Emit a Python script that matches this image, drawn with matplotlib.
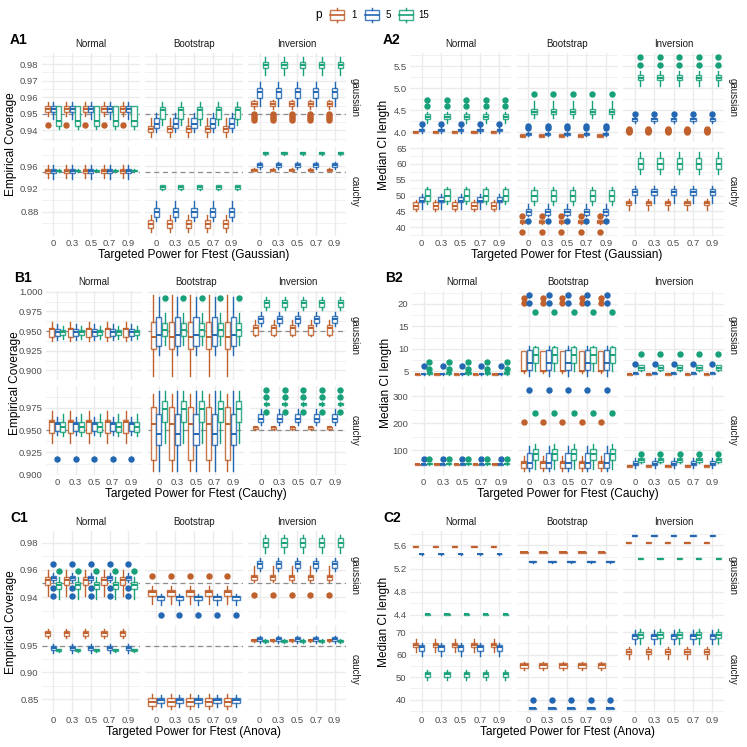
import matplotlib
matplotlib.use("Agg")
import matplotlib.pyplot as plt
from matplotlib.patches import Rectangle
import numpy as np

plt.rcParams['font.family'] = ['Liberation Sans', 'DejaVu Sans']

FIG_PX = 747
DPI = 100

POWER_LEVELS = ["0", "0.3", "0.5", "0.7", "0.9"]
P_VALUES = ["1", "5", "15"]
METHODS = ["Normal", "Bootstrap", "Inversion"]
DISTRIBUTIONS = ["gaussian", "cauchy"]
P_COLORS = {"1": "#C0602C", "5": "#2367B3", "15": "#17A079"}

# box statistics per p (1, 5, 15): (lower whisker, Q1, median, Q3, upper whisker, [outliers]); None = absent
A1_GAUSSIAN = {
    "Normal":    [(0.949, 0.951, 0.953, 0.955, 0.957, [0.9436]),
                  (0.947, 0.951, 0.953, 0.9545, 0.957, []),
                  (0.9406, 0.943, 0.946, 0.9545, 0.955, [])],
    "Bootstrap": [(0.9358, 0.9388, 0.9412, 0.943, 0.9473, []),
                  (0.9388, 0.9418, 0.9442, 0.9473, 0.9503, []),
                  (0.9436, 0.9467, 0.9525, 0.954, 0.957, [])],
    "Inversion": [(0.9530, 0.9545, 0.956, 0.9576, 0.9585, [0.9497, 0.9485, 0.9473, 0.9465]),
                  (0.9545, 0.9594, 0.9633, 0.9655, 0.969, []),
                  (0.9733, 0.9776, 0.9797, 0.9812, 0.9842, [])],
}
A1_CAUCHY = {
    "Normal":    [(0.9387, 0.948, 0.951, 0.955, 0.9618, []),
                  (0.938, 0.947, 0.952, 0.955, 0.962, []),
                  (0.949, 0.951, 0.952, 0.953, 0.955, [])],
    "Bootstrap": [(0.844, 0.8516, 0.8587, 0.8658, 0.873, []),
                  (0.864, 0.871, 0.880, 0.887, 0.898, []),
                  (0.918, 0.920, 0.923, 0.926, 0.927, [])],
    "Inversion": [(0.951, 0.952, 0.9535, 0.955, 0.956, []),
                  (0.955, 0.9575, 0.961, 0.9645, 0.967, []),
                  (0.9798, 0.9815, 0.983, 0.9845, 0.9855, [])],
}
A2_GAUSSIAN = {
    "Normal":    [(3.98, 3.99, 4.00, 4.02, 4.03, []),
                  (3.98, 4.02, 4.04, 4.07, 4.12, [4.19]),
                  (4.20, 4.29, 4.35, 4.41, 4.45, [4.59, 4.74])],
    "Bootstrap": [(3.88, 3.90, 3.92, 3.95, 3.96, []),
                  (3.92, 3.93, 3.95, 3.98, 4.00, [4.09, 4.13]),
                  (4.32, 4.41, 4.47, 4.53, 4.71, [4.86])],
    "Inversion": [(4.01, 4.02, 4.04, 4.06, 4.07, [4.00, 4.02, 4.06, 4.08]),
                  (4.22, 4.25, 4.29, 4.33, 4.36, [4.42]),
                  (5.05, 5.19, 5.24, 5.30, 5.40, [5.52, 5.71])],
}
A2_CAUCHY = {
    "Normal":    [(45.0, 45.8, 46.7, 47.9, 48.7, []),
                  (45.9, 47.9, 48.4, 49.5, 50.6, []),
                  (47.2, 48.4, 50.0, 52.2, 52.8, [])],
    "Bootstrap": [(41.0, 41.2, 41.7, 42.2, 42.4, [43.6, 38.5]),
                  (43.6, 44.0, 44.8, 45.6, 47.2, [42.1]),
                  (46.9, 48.2, 49.8, 51.9, 52.6, [])],
    "Inversion": [(45.5, 46.9, 47.5, 48.4, 49.0, []),
                  (47.6, 50.3, 51.2, 52.1, 53.1, []),
                  (56.8, 58.4, 60.1, 62.0, 63.9, [])],
}
B1_GAUSSIAN = {
    "Normal":    [(0.9379, 0.9423, 0.953, 0.9539, 0.9616, []),
                  (0.9388, 0.9436, 0.9487, 0.953, 0.9594, []),
                  (0.9397, 0.9456, 0.949, 0.9517, 0.9564, [])],
    "Bootstrap": [(0.8929, 0.9272, 0.9423, 0.9616, 0.9958, []),
                  (0.9195, 0.9315, 0.9452, 0.968, 0.9938, []),
                  (0.9324, 0.9443, 0.9508, 0.9607, 0.9736, [0.9916])],
    "Inversion": [(0.9436, 0.9456, 0.9539, 0.9581, 0.9636, []),
                  (0.9564, 0.9607, 0.9654, 0.9693, 0.9745, []),
                  (0.9774, 0.9809, 0.9851, 0.9894, 0.9938, [])],
}
B1_CAUCHY = {
    "Normal":    [(0.936, 0.9473, 0.9586, 0.9613, 0.971, []),
                  (0.9444, 0.9492, 0.9568, 0.9593, 0.9642, [0.918]),
                  (0.9436, 0.9484, 0.954, 0.9586, 0.968, [])],
    "Bootstrap": [(0.9042, 0.9162, 0.9568, 0.9762, 0.9905, []),
                  (0.9042, 0.9334, 0.9462, 0.968, 0.9935, []),
                  (0.936, 0.9586, 0.9736, 0.9822, 0.9935, [])],
    "Inversion": [(0.9505, 0.951, 0.953, 0.954, 0.955, []),
                  (0.956, 0.9586, 0.9624, 0.968, 0.9736, []),
                  (0.9775, 0.978, 0.9795, 0.981, 0.9815, [0.995, 0.9867, 0.9706])],
}
B2_GAUSSIAN = {
    "Normal":    [(4.1, 4.2, 4.27, 4.35, 4.4, []),
                  (4.15, 4.25, 4.32, 4.4, 4.5, [6.1]),
                  (4.2, 4.3, 4.5, 4.8, 5.0, [5.5, 7.1])],
    "Bootstrap": [(4.6, 5.0, 5.1, 9.4, 9.5, [20.3, 21.3]),
                  (3.9, 5.2, 6.7, 9.8, 10.5, [20.3, 22.0]),
                  (5.0, 6.7, 8.5, 10.4, 10.7, [18.1])],
    "Inversion": [(4.1, 4.2, 4.3, 4.4, 4.5, []),
                  (4.3, 4.4, 4.5, 4.6, 4.7, [6.5]),
                  (5.0, 5.2, 5.7, 6.25, 6.4, [8.7])],
}
B2_CAUCHY = {
    "Normal":    [(45, 46, 47.5, 49, 50, []),
                  (45, 46, 47, 48.5, 50, [68.5]),
                  (46, 48, 49.5, 51, 52, [68.5])],
    "Bootstrap": [(23.1, 35.5, 53.9, 59.7, 78.0, [202.6]),
                  (23.1, 35.5, 53.9, 90.5, 114.6, [322.0]),
                  (29.3, 63.4, 84.2, 105.0, 124.5, [239.0])],
    "Inversion": [(36, 38, 41, 45, 46, []),
                  (35, 44, 50, 60, 72, []),
                  (52, 56, 64, 72, 75, [84.2])],
}
C1_GAUSSIAN = {
    "Normal":    [(0.941, 0.949, 0.9527, 0.9547, 0.960, []),
                  (0.951, 0.9525, 0.954, 0.9558, 0.9575, [0.9644, 0.9466, 0.941]),
                  (0.9385, 0.9459, 0.949, 0.9514, 0.9547, [0.9595])],
    "Bootstrap": [(0.935, 0.941, 0.9434, 0.9453, 0.9478, [0.9556]),
                  (0.9344, 0.9375, 0.940, 0.941, 0.9424, [0.9268]),
                  None],
    "Inversion": [(0.9507, 0.9522, 0.9547, 0.9563, 0.9629, [0.9415]),
                  (0.9588, 0.9612, 0.9644, 0.9668, 0.9686, []),
                  (0.9727, 0.9766, 0.980, 0.9832, 0.9856, [])],
}
C1_CAUCHY = {
    "Normal":    [(0.9646, 0.9688, 0.973, 0.9767, 0.981, []),
                  (0.9354, 0.9414, 0.9457, 0.9487, 0.9537, []),
                  (0.938, 0.9395, 0.941, 0.943, 0.944, [])],
    "Bootstrap": [(0.8317, 0.8378, 0.845, 0.8531, 0.8591, []),
                  (0.8348, 0.8427, 0.8476, 0.8513, 0.8573, []),
                  None],
    "Inversion": [(0.956, 0.958, 0.9597, 0.961, 0.963, []),
                  (0.9548, 0.9584, 0.962, 0.9657, 0.9688, []),
                  (0.955, 0.957, 0.9585, 0.9605, 0.963, [])],
}
C2_GAUSSIAN = {
    "Normal":    [(5.57, 5.575, 5.58, 5.585, 5.59, []),
                  (5.44, 5.445, 5.45, 5.455, 5.46, []),
                  (4.40, 4.405, 4.41, 4.415, 4.42, [])],
    "Bootstrap": [(5.47, 5.475, 5.48, 5.485, 5.49, []),
                  (5.30, 5.31, 5.32, 5.33, 5.34, []),
                  None],
    "Inversion": [(5.64, 5.645, 5.65, 5.655, 5.66, []),
                  (5.76, 5.765, 5.77, 5.775, 5.78, []),
                  (5.36, 5.365, 5.37, 5.375, 5.38, [])],
}
C2_CAUCHY = {
    "Normal":    [(61.3, 63.3, 64.3, 65.4, 66.9, []),
                  (59.5, 61.8, 63.3, 64.3, 65.1, []),
                  (48.8, 50.3, 51.5, 52.3, 53.0, [])],
    "Bootstrap": [(53.0, 54.3, 55.4, 56.3, 56.8, []),
                  (35.9, 36.0, 36.2, 36.4, 36.5, [39.8]),
                  None],
    "Inversion": [(58.3, 60.3, 61.3, 62.4, 63.6, []),
                  (64.8, 66.9, 68.2, 69.3, 71.1, []),
                  (64.8, 67.2, 68.9, 69.9, 71.4, [])],
}

# y-axis breaks (per block: gaussian row, cauchy row) and label formats
A1_TICKS = ([0.94, 0.95, 0.96, 0.97, 0.98], [0.88, 0.92, 0.96])
A2_TICKS = ([4.0, 4.5, 5.0, 5.5], [40, 45, 50, 55, 60, 65])
B1_TICKS = ([0.900, 0.925, 0.950, 0.975, 1.000], [0.900, 0.925, 0.950, 0.975])
B2_TICKS = ([5, 10, 15, 20], [100, 200, 300])
C1_TICKS = ([0.94, 0.96, 0.98], [0.85, 0.90, 0.95])
C2_TICKS = ([4.4, 4.8, 5.2, 5.6], [40, 50, 60, 70])

GRID = "#EBEBEB"
TXT = "#4D4D4D"

fig = plt.figure(figsize=(FIG_PX / DPI, FIG_PX / DPI), dpi=DPI)


def px_axes(x0, y0, x1, y1):
    return fig.add_axes([x0 / FIG_PX, 1 - y1 / FIG_PX, (x1 - x0) / FIG_PX, (y1 - y0) / FIG_PX])


def ftext(x, y, s, **kw):
    fig.text(x / FIG_PX, 1 - y / FIG_PX, s, **kw)


def draw_facet(ax, stats):
    present = [k for k, s in enumerate(stats) if s is not None]
    n = len(present)
    slot = 0.9 / n
    bw = slot * 0.9
    xs = np.arange(len(POWER_LEVELS))
    for j, k in enumerate(present):
        s = stats[k]
        col = P_COLORS[P_VALUES[k]]
        off = -0.45 + slot * (j + 0.5)
        st = [dict(whislo=s[0], q1=s[1], med=s[2], q3=s[3], whishi=s[4], fliers=s[5])
              for _ in POWER_LEVELS]
        ax.bxp(st, positions=xs + off, widths=bw, showcaps=False, patch_artist=True,
               boxprops=dict(facecolor="white", edgecolor=col, linewidth=1.0, alpha=0.85),
               whiskerprops=dict(color=col, linewidth=1.0),
               medianprops=dict(color=col, linewidth=1.4),
               flierprops=dict(marker="o", markerfacecolor=col, markeredgecolor=col,
                               markersize=3.6, linestyle="none"),
               manage_ticks=False)


def minor_breaks(ticks):
    t = np.asarray(ticks, dtype=float)
    d = t[1] - t[0]
    return np.concatenate([[t[0] - d / 2], (t[:-1] + t[1:]) / 2, [t[-1] + d / 2]])


def draw_block(tag, rows, ticks, fmts, left, right, top, bottom, ylabel, xlabel, dashed):
    gap = 5.5
    vgap = 6
    pw = (right - left - 2 * gap) / 3
    ph = (bottom - top - vgap) / 2
    for r, (dist, stats) in enumerate(zip(DISTRIBUTIONS, rows)):
        vals = []
        for m in METHODS:
            for s in stats[m]:
                if s is not None:
                    vals += [s[0], s[4]] + list(s[5])
        lo, hi = min(vals), max(vals)
        pad = 0.05 * (hi - lo)
        ylim = (lo - pad, hi + pad)
        ty = top + r * (ph + vgap)
        for c, m in enumerate(METHODS):
            tx = left + c * (pw + gap)
            ax = px_axes(tx, ty, tx + pw, ty + ph)
            ax.set_xlim(-0.6, len(POWER_LEVELS) - 0.4)
            ax.set_ylim(*ylim)
            for sp in ax.spines.values():
                sp.set_visible(False)
            ax.set_axisbelow(True)
            for v in minor_breaks(ticks[r]):
                if ylim[0] <= v <= ylim[1]:
                    ax.axhline(v, color=GRID, lw=0.5, zorder=0)
            for v in ticks[r]:
                if ylim[0] <= v <= ylim[1]:
                    ax.axhline(v, color=GRID, lw=1.0, zorder=0)
            for i in range(len(POWER_LEVELS)):
                ax.axvline(i, color=GRID, lw=1.0, zorder=0)
            if dashed:
                ax.axhline(0.95, color="#8C8C8C", lw=0.9, ls=(0, (4, 3)), zorder=1)
            draw_facet(ax, stats[m])
            ax.set_yticks(ticks[r])
            ax.set_xticks(range(len(POWER_LEVELS)))
            ax.tick_params(length=0, pad=2.5, labelsize=6.8, colors=TXT)
            if c == 0:
                ax.set_yticklabels([fmts[r].format(v) for v in ticks[r]])
            else:
                ax.set_yticklabels([])
            if r == 1:
                ax.set_xticklabels(POWER_LEVELS)
            else:
                ax.set_xticklabels([])
            if r == 0:
                ftext(tx + pw / 2, ty - 9, m, ha="center", va="center", fontsize=7, color="#1A1A1A")
            if c == 2:
                ftext(tx + pw + 9, ty + ph / 2, dist, ha="center", va="center", rotation=-90,
                      fontsize=7, color="#1A1A1A")
    ftext((left + right) / 2, bottom + 19, xlabel, ha="center", va="center", fontsize=8.6, color="black")
    ftext(left - 31 if "Coverage" in ylabel else left - 26, (top + bottom) / 2, ylabel,
          ha="center", va="center", rotation=90, fontsize=8.6, color="black")
    ftext(left - 32 if tag.endswith("1") else left - 27, top - 13, tag, ha="left", va="center",
          fontsize=10, fontweight="bold")


draw_block("A1", [A1_GAUSSIAN, A1_CAUCHY], A1_TICKS, ("{:.2f}", "{:.2f}"), 42, 346, 53, 236,
           "Empirical Coverage", "Targeted Power for Ftest (Gaussian)", True)
draw_block("A2", [A2_GAUSSIAN, A2_CAUCHY], A2_TICKS, ("{:.1f}", "{:.0f}"), 410, 724, 53, 236,
           "Median CI length", "Targeted Power for Ftest (Gaussian)", False)
draw_block("B1", [B1_GAUSSIAN, B1_CAUCHY], B1_TICKS, ("{:.3f}", "{:.3f}"), 46, 346, 291, 475,
           "Empirical Coverage", "Targeted Power for Ftest (Cauchy)", True)
draw_block("B2", [B2_GAUSSIAN, B2_CAUCHY], B2_TICKS, ("{:.0f}", "{:.0f}"), 412, 724, 291, 475,
           "Median CI length", "Targeted Power for Ftest (Cauchy)", False)
draw_block("C1", [C1_GAUSSIAN, C1_CAUCHY], C1_TICKS, ("{:.2f}", "{:.2f}"), 42, 346, 531, 713,
           "Empirical Coverage", "Targeted Power for Ftest (Anova)", True)
draw_block("C2", [C2_GAUSSIAN, C2_CAUCHY], C2_TICKS, ("{:.1f}", "{:.0f}"), 410, 724, 531, 713,
           "Median CI length", "Targeted Power for Ftest (Anova)", False)

# legend
lax = px_axes(300, 0, 440, 28)
lax.set_xlim(300, 440)
lax.set_ylim(28, 0)
lax.axis("off")
ftext(319, 15, "p", ha="center", va="center", fontsize=8.6)
key_x = [330, 364.5, 399]
lab_x = [353.5, 388, 424]
for k, p in enumerate(P_VALUES):
    col = P_COLORS[p]
    x0 = key_x[k]
    lax.add_patch(Rectangle((x0, 10), 14, 10, facecolor="white", edgecolor=col, lw=1.0, alpha=0.85))
    lax.plot([x0, x0 + 14], [15, 15], color=col, lw=1.2)
    lax.plot([x0 + 7, x0 + 7], [8, 10], color=col, lw=1.0)
    lax.plot([x0 + 7, x0 + 7], [20, 22], color=col, lw=1.0)
    ftext(lab_x[k], 15, p, ha="center", va="center", fontsize=7)

fig.savefig("out.png", dpi=DPI, facecolor="white")
